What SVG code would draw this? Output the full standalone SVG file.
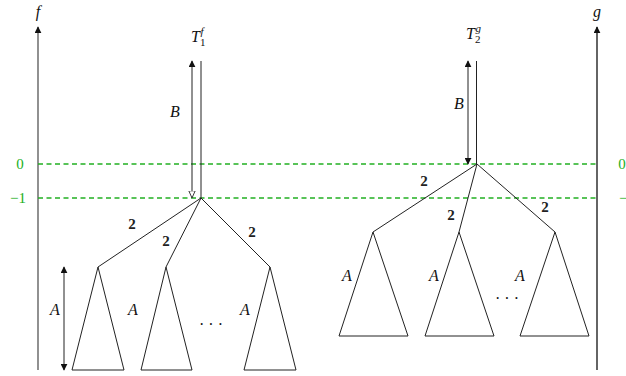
<svg xmlns="http://www.w3.org/2000/svg" width="626" height="376" viewBox="0 0 626 376">
<style>
.ln{stroke:#222;stroke-width:1;fill:none}
.tri{stroke:#222;stroke-width:1;fill:#fff}
.ax{stroke-width:1.3;fill:none}
.gd{stroke:#22b022;stroke-width:1.6;stroke-dasharray:5,3.5;fill:none}
.m{font-family:"Liberation Serif","DejaVu Serif",serif;font-style:italic;font-size:16px;fill:#111}
.n{font-family:"Liberation Serif","DejaVu Serif",serif;font-size:15px;font-weight:bold;fill:#222}
.g{font-family:"Liberation Serif","DejaVu Serif",serif;font-size:15px;fill:#22b022}
.sub{font-size:11px}
</style>
<defs>
<marker id="ah" viewBox="0 0 10 10" refX="9" refY="5" markerWidth="7" markerHeight="7" orient="auto-start-reverse" markerUnits="userSpaceOnUse"><path d="M0,0 L10,5 L0,10 Z" fill="#111"/></marker>
<marker id="ao" viewBox="0 0 10 10" refX="9" refY="5" markerWidth="8" markerHeight="8" orient="auto" markerUnits="userSpaceOnUse"><path d="M0,1 L9,5 L0,9 Z" fill="#fff" stroke="#333" stroke-width="1.2"/></marker>
</defs>
<g id="axes">
<line class="ax" x1="38" y1="370" x2="38" y2="27" stroke="#555" marker-end="url(#ah)"/>
<line class="ax" x1="597" y1="370" x2="597" y2="27" stroke="#111" marker-end="url(#ah)"/>
<text class="m" x="38" y="17" text-anchor="middle">f</text>
<text class="m" x="597" y="17" text-anchor="middle">g</text>
</g>
<g id="levels">
<line class="gd" x1="38" y1="164" x2="597" y2="164"/>
<line class="gd" x1="38" y1="198" x2="597" y2="198"/>
<text class="g" x="20" y="169" text-anchor="middle">0</text>
<text class="g" x="18" y="203" text-anchor="middle">−1</text>
<text class="g" x="622" y="169" text-anchor="middle">0</text>
<text class="g" x="627" y="203" text-anchor="middle">−1</text>
</g>
<g id="tree1">
<text class="m" x="191" y="42">T<tspan class="sub" style="font-style:normal" dy="4">1</tspan><tspan class="sub" dx="-5" dy="-11">f</tspan></text>
<line class="ln" x1="201" y1="61" x2="201" y2="198"/>
<line class="ln" x1="201" y1="198" x2="98" y2="267"/>
<line class="ln" x1="201" y1="198" x2="166" y2="267"/>
<line class="ln" x1="201" y1="198" x2="270" y2="267"/>
<text class="n" x="132" y="229" text-anchor="middle">2</text>
<text class="n" x="166" y="246" text-anchor="middle">2</text>
<text class="n" x="252" y="237" text-anchor="middle">2</text>
<polygon class="tri" points="98,267 72,370 124,370"/>
<polygon class="tri" points="166,267 141,370 192,370"/>
<polygon class="tri" points="270,267 244,370 296,370"/>
<text class="m" x="55" y="315" text-anchor="middle">A</text>
<text class="m" x="133" y="315" text-anchor="middle">A</text>
<text class="m" x="245" y="315" text-anchor="middle">A</text>
<text class="m" x="211" y="330" text-anchor="middle" style="font-style:normal">· · ·</text>
</g>
<g id="tree2">
<text class="m" x="466" y="39">T<tspan class="sub" style="font-style:normal" dy="4">2</tspan><tspan class="sub" dx="-5" dy="-11">g</tspan></text>
<line class="ln" x1="476.5" y1="61" x2="476.5" y2="164" stroke="#777"/>
<line class="ln" x1="477" y1="164" x2="373" y2="232"/>
<line class="ln" x1="477" y1="164" x2="459" y2="232"/>
<line class="ln" x1="477" y1="164" x2="555" y2="232"/>
<text class="n" x="424" y="186" text-anchor="middle">2</text>
<text class="n" x="451" y="220" text-anchor="middle">2</text>
<text class="n" x="545" y="212" text-anchor="middle">2</text>
<polygon class="tri" points="373,232 339,336 408,336"/>
<polygon class="tri" points="459,232 425,336 494,336"/>
<polygon class="tri" points="555,232 520,336 589,336"/>
<text class="m" x="347" y="281" text-anchor="middle">A</text>
<text class="m" x="434" y="281" text-anchor="middle">A</text>
<text class="m" x="520" y="281" text-anchor="middle">A</text>
<text class="m" x="507" y="304" text-anchor="middle" style="font-style:normal">· · ·</text>
</g>
<g id="connectors">
<line class="ln" x1="192" y1="61" x2="192" y2="198" marker-start="url(#ah)" marker-end="url(#ao)"/>
<text class="m" x="175" y="117" text-anchor="middle">B</text>
<line class="ln" x1="468" y1="61" x2="468" y2="164" marker-start="url(#ah)" marker-end="url(#ah)"/>
<text class="m" x="459" y="109" text-anchor="middle">B</text>
<line class="ln" x1="64" y1="267" x2="64" y2="370" marker-start="url(#ah)" marker-end="url(#ah)"/>
</g>
</svg>
